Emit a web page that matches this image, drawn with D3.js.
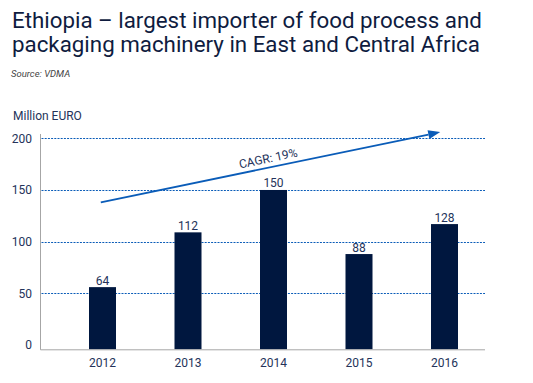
<!DOCTYPE html>
<html>
<head>
<meta charset="utf-8">
<script src="https://cdn.jsdelivr.net/npm/d3@7"></script>
<style>
  html, body { margin: 0; padding: 0; background: #fff; }
  svg { display: block; }
</style>
</head>
<body>
<svg id="chart" width="533" height="383"></svg>
<script>
const titleLines = ["Ethiopia – largest importer of food process and", "packaging machinery in East and Central Africa"];
const sourceText = "Source: VDMA";
const unitLabel = "Million EURO";
const years = ["2012", "2013", "2014", "2015", "2016"];
const barValues = [56, 109, 150, 88, 117];
const valueLabels = ["64", "112", "150", "88", "128"];
const yTicks = [0, 50, 100, 150, 200];
const cagrLabel = "CAGR: 19%";
const arrowStart = [-0.02, 138];
const arrowEnd = [3.95, 206];

const svg = d3.select("#chart");
const navy = "#0f1c3f";
const textCol = "#24335a";
const barCol = "#00173f";
const blue = "#0a5cb8";
const font = "Roboto, 'Open Sans', sans-serif";

const x = d3.scalePoint().domain(years).range([102.5, 444.5]);
const xi = d3.scaleLinear().domain([0, years.length - 1]).range([102.5, 444.5]);
const y = d3.scaleLinear().domain([0, 200]).range([345, 138.3]);
const barW = 27;
const baseline = y(0) + 4.3;
const left = 40.5, right = 485;

// Title
const title = svg.append("g");
titleLines.forEach((t, i) => {
  title.append("text").attr("x", 12).attr("y", 27.5 + i * 24.3)
    .attr("font-family", font).attr("font-size", 22).attr("fill", navy)
    .text(t);
});
const t0 = title.select("text").node();
const w0 = t0.getComputedTextLength();
title.selectAll("text").attr("font-size", 22 * 470 / w0);

svg.append("text").attr("x", 11).attr("y", 76.5)
  .attr("font-family", font).attr("font-size", 9.5).attr("font-style", "italic")
  .attr("fill", "#444").text(sourceText);

svg.append("text").attr("x", 13).attr("y", 120)
  .attr("font-family", font).attr("font-size", 12).attr("fill", textCol)
  .text(unitLabel);

// gridlines
svg.append("g").selectAll("line").data(yTicks.filter(d => d > 0)).join("line")
  .attr("x1", left + 1).attr("x2", right)
  .attr("y1", d => Math.round(y(d)) + 0.5).attr("y2", d => Math.round(y(d)) + 0.5)
  .attr("stroke", blue).attr("stroke-width", 1).attr("stroke-dasharray", "2,1.2");

// y tick labels
svg.append("g").selectAll("text").data(yTicks).join("text")
  .attr("x", 32).attr("y", d => y(d)).attr("dy", "0.36em")
  .attr("text-anchor", "end")
  .attr("font-family", font).attr("font-size", 12).attr("fill", textCol)
  .text(d => d);

// bars
svg.append("g").selectAll("rect").data(barValues).join("rect")
  .attr("x", (d, i) => x(years[i]) - barW / 2)
  .attr("y", d => y(d))
  .attr("width", barW)
  .attr("height", d => baseline - y(d))
  .attr("fill", barCol);

// value labels
svg.append("g").selectAll("text").data(barValues).join("text")
  .attr("x", (d, i) => x(years[i]))
  .attr("y", d => y(d) - 2.5)
  .attr("text-anchor", "middle")
  .attr("font-family", font).attr("font-size", 12).attr("fill", textCol)
  .text((d, i) => valueLabels[i]);

// axes lines
svg.append("line").attr("x1", left).attr("x2", left).attr("y1", 134).attr("y2", baseline + 0.5)
  .attr("stroke", "#a6a6a6").attr("stroke-width", 1);
svg.append("line").attr("x1", left).attr("x2", right).attr("y1", baseline + 0.5).attr("y2", baseline + 0.5)
  .attr("stroke", "#a6a6a6").attr("stroke-width", 1);

// year labels
svg.append("g").selectAll("text").data(years).join("text")
  .attr("x", d => x(d)).attr("y", 363).attr("dy", "0.36em")
  .attr("text-anchor", "middle")
  .attr("font-family", font).attr("font-size", 12).attr("fill", textCol)
  .text(d => d);

// CAGR arrow
const x1 = xi(arrowStart[0]), y1 = y(arrowStart[1]);
const x2 = xi(arrowEnd[0]), y2 = y(arrowEnd[1]);
const ang = Math.atan2(y2 - y1, x2 - x1);
const headLen = 12, headW = 4.5;
const bx = x2 - headLen * Math.cos(ang), by = y2 - headLen * Math.sin(ang);
svg.append("line").attr("x1", x1).attr("y1", y1).attr("x2", bx).attr("y2", by)
  .attr("stroke", blue).attr("stroke-width", 1.8);
svg.append("path")
  .attr("d", `M${x2},${y2} L${bx - headW * Math.sin(ang)},${by + headW * Math.cos(ang)} L${bx + headW * Math.sin(ang)},${by - headW * Math.cos(ang)} Z`)
  .attr("fill", blue);

const tx = 270;
const tt = (tx - x1) / (x2 - x1);
const ty = y1 + tt * (y2 - y1);
svg.append("text")
  .attr("transform", `translate(${tx},${ty}) rotate(${ang * 180 / Math.PI}) translate(0,-5)`)
  .attr("text-anchor", "middle")
  .attr("font-family", font).attr("font-size", 12).attr("fill", textCol)
  .text(cagrLabel);
</script>
</body>
</html>
